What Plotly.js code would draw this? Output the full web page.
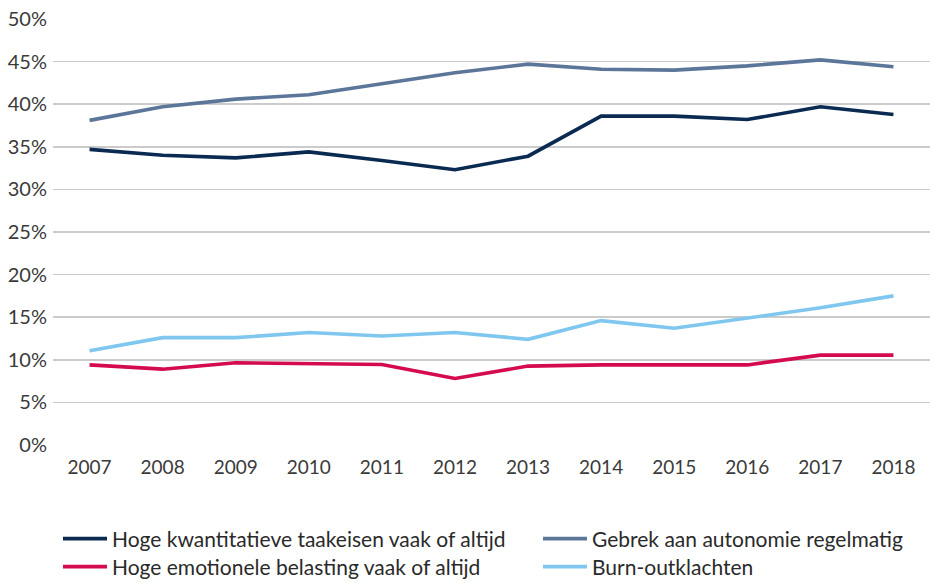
<!DOCTYPE html>
<html>
<head>
<meta charset="utf-8">
<script src="https://cdn.plot.ly/plotly-3.0.1.min.js"></script>
<style>html,body{margin:0;padding:0;background:#fff;}#chart{width:930px;height:583px;}</style>
</head>
<body>
<div id="chart"></div>
<script>
const years = ['2007','2008','2009','2010','2011','2012','2013','2014','2015','2016','2017','2018'];
const kwantitatief = [34.7, 34.0, 33.7, 34.4, 33.4, 32.3, 33.9, 38.6, 38.6, 38.2, 39.7, 38.8];
const autonomie    = [38.1, 39.7, 40.6, 41.1, 42.4, 43.7, 44.7, 44.1, 44.0, 44.5, 45.2, 44.4];
const emotioneel   = [9.4, 8.9, 9.65, 9.55, 9.45, 7.8, 9.26, 9.4, 9.4, 9.4, 10.55, 10.55];
const burnout      = [11.06, 12.6, 12.6, 13.2, 12.8, 13.2, 12.4, 14.6, 13.7, 14.9, 16.1, 17.5];
const names = ['Hoge kwantitatieve taakeisen vaak of altijd','Gebrek aan autonomie regelmatig','Hoge emotionele belasting vaak of altijd','Burn-outklachten'];
const colors = ['#0a2a52','#5c7699','#d50b50','#7fc7ee'];

const series = [kwantitatief, autonomie, emotioneel, burnout];
const legendIds = ['legend','legend2','legend3','legend4'];
const traces = series.map((s,i)=>({
  x: years, y: s, type:'scatter', mode:'lines', name: names[i],
  line:{color:colors[i], width:3.6},
  legend: legendIds[i], hoverinfo:'skip'
}));

const fam = 'Lato, "Open Sans", sans-serif';
function leg(x, y) {
  return {orientation:'h', xref:'container', yref:'container', xanchor:'left', yanchor:'middle',
    x: x/930, y: 1 - y/583,
    font:{family:fam, size:21, color:'#2a2a2a'}, bgcolor:'rgba(0,0,0,0)', itemwidth:44};
}

const layout = {
  width:930, height:583,
  margin:{l:53, r:0, t:19, b:138},
  paper_bgcolor:'#fff', plot_bgcolor:'#fff',
  font: {family:fam, size:19, color:'#3a3a3a'},
  showlegend:true,
  xaxis:{type:'category', range:[-0.5,11.5], showgrid:false, zeroline:false, showline:false,
    ticks:'', tickfont:{size:19, color:'#3a3a3a'}, ticklabelstandoff:9, fixedrange:true, automargin:false},
  yaxis:{range:[0,50], dtick:5, ticksuffix:'%', showgrid:true, gridcolor:'#cbcbcb', gridwidth:1.5,
    zeroline:false, showline:false, ticks:'', tickfont:{size:20, color:'#3a3a3a'}, ticklabelstandoff:5, fixedrange:true, automargin:false},
  legend: leg(58, 539),
  legend2: leg(538, 539),
  legend3: leg(58, 567),
  legend4: leg(538, 567)
};

Plotly.newPlot('chart', traces, layout, {displayModeBar:false, staticPlot:true});
</script>
</body>
</html>
